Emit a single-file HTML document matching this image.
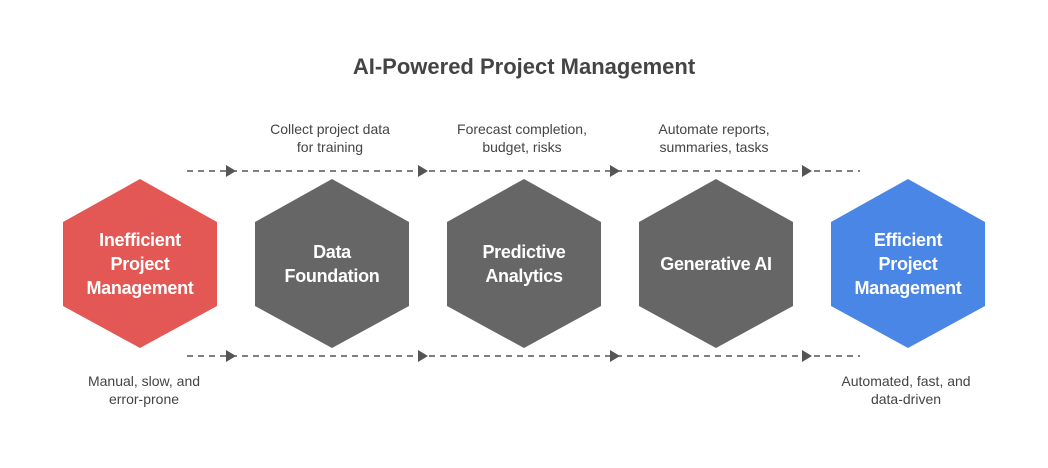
<!DOCTYPE html>
<html><head><meta charset="utf-8"><style>
html,body{margin:0;padding:0;background:#fff;}
svg{display:block;font-family:"Liberation Sans",Arial,sans-serif;}
</style></head><body>
<svg width="1048" height="468" viewBox="0 0 1048 468" xmlns="http://www.w3.org/2000/svg">
<text x="524" y="74" text-anchor="middle" font-size="22" font-weight="bold" fill="#444">AI-Powered Project Management</text>
<g stroke="#555" stroke-width="1.6" stroke-dasharray="6,5">
<line x1="187" y1="171" x2="860" y2="171"/>
<line x1="187" y1="356" x2="860" y2="356"/>
</g>
<g fill="#555">
<polygon points="226,165 236,171 226,177"/><polygon points="418,165 428,171 418,177"/><polygon points="610,165 620,171 610,177"/><polygon points="802,165 812,171 802,177"/>
<polygon points="226,350 236,356 226,362"/><polygon points="418,350 428,356 418,362"/><polygon points="610,350 620,356 610,362"/><polygon points="802,350 812,356 802,362"/>
</g>
<g>
<polygon points="140,179 217,222 217,306 140,348 63,306 63,222" fill="#E35754"/>
<polygon points="332,179 409,222 409,306 332,348 255,306 255,222" fill="#666"/>
<polygon points="524,179 601,222 601,306 524,348 447,306 447,222" fill="#666"/>
<polygon points="716,179 793,222 793,306 716,348 639,306 639,222" fill="#666"/>
<polygon points="908,179 985,222 985,306 908,348 831,306 831,222" fill="#4A86E5"/>
</g>
<g fill="#fff" font-size="18" font-weight="bold" text-anchor="middle" letter-spacing="-0.3">
<text x="140" y="246">Inefficient</text><text x="140" y="270">Project</text><text x="140" y="294">Management</text>
<text x="332" y="258">Data</text><text x="332" y="282">Foundation</text>
<text x="524" y="258">Predictive</text><text x="524" y="282">Analytics</text>
<text x="716" y="270">Generative AI</text>
<text x="908" y="246">Efficient</text><text x="908" y="270">Project</text><text x="908" y="294">Management</text>
</g>
<g fill="#444" font-size="14" text-anchor="middle">
<text x="330" y="134">Collect project data</text><text x="330" y="152">for training</text>
<text x="522" y="134">Forecast completion,</text><text x="522" y="152">budget, risks</text>
<text x="714" y="134">Automate reports,</text><text x="714" y="152">summaries, tasks</text>
<text x="144" y="386">Manual, slow, and</text><text x="144" y="404">error-prone</text>
<text x="906" y="386">Automated, fast, and</text><text x="906" y="404">data-driven</text>
</g>
</svg>
</body></html>
